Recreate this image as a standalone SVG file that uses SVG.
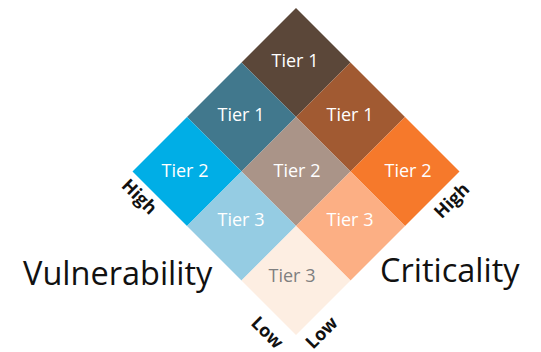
<svg xmlns="http://www.w3.org/2000/svg" width="541" height="352" viewBox="0 0 541 352">
<style>
.tier{font-family:"Open Sans","Liberation Sans",sans-serif;font-size:18px;fill:#ffffff;text-anchor:middle}
.axis{font-family:"Open Sans","Liberation Sans",sans-serif;font-size:32.5px;fill:#111111}
.lvl{font-family:"Open Sans","Liberation Sans",sans-serif;font-size:18px;font-weight:bold;fill:#111111;text-anchor:middle}
</style>
<defs>
<path id="cell" d="M0,-54.5 L54.5,0 L0,54.5 L-54.5,0 Z"/>
</defs>
<rect width="541" height="352" fill="#ffffff"/>
<g id="c00"><use href="#cell" x="296" y="62.5" fill="#5b4739"/><text class="tier" x="295" y="67">Tier 1</text></g>
<g id="c10"><use href="#cell" x="350.5" y="117" fill="#a15a32"/><text class="tier" x="350" y="121">Tier 1</text></g>
<g id="c20"><use href="#cell" x="405" y="171.5" fill="#f6792b"/><text class="tier" x="408" y="177">Tier 2</text></g>
<g id="c01"><use href="#cell" x="241.5" y="117" fill="#41788d"/><text class="tier" x="241" y="121">Tier 1</text></g>
<g id="c11"><use href="#cell" x="296" y="171.5" fill="#aa9488"/><text class="tier" x="297" y="177">Tier 2</text></g>
<g id="c21"><use href="#cell" x="350.5" y="226" fill="#fcaf84"/><text class="tier" x="350" y="226">Tier 3</text></g>
<g id="c02"><use href="#cell" x="187" y="171.5" fill="#00aee6"/><text class="tier" x="185" y="177">Tier 2</text></g>
<g id="c12"><use href="#cell" x="241.5" y="226" fill="#95cce3"/><text class="tier" x="241" y="226">Tier 3</text></g>
<g id="c22"><use href="#cell" x="296" y="280.5" fill="#fdeee2"/><text class="tier" x="292" y="282" style="fill:#7f7f7f">Tier 3</text></g>
<g id="labels">
<text class="axis" x="23" y="285">Vulnerability</text>
<text class="axis" x="380" y="282">Criticality</text>
<text class="lvl" transform="translate(135,201) rotate(45)">High</text>
<text class="lvl" transform="translate(456,205) rotate(-45)">High</text>
<text class="lvl" transform="translate(263,337) rotate(45)">Low</text>
<text class="lvl" transform="translate(326,337) rotate(-45)">Low</text>
</g>
<g id="connectors"></g>
</svg>
